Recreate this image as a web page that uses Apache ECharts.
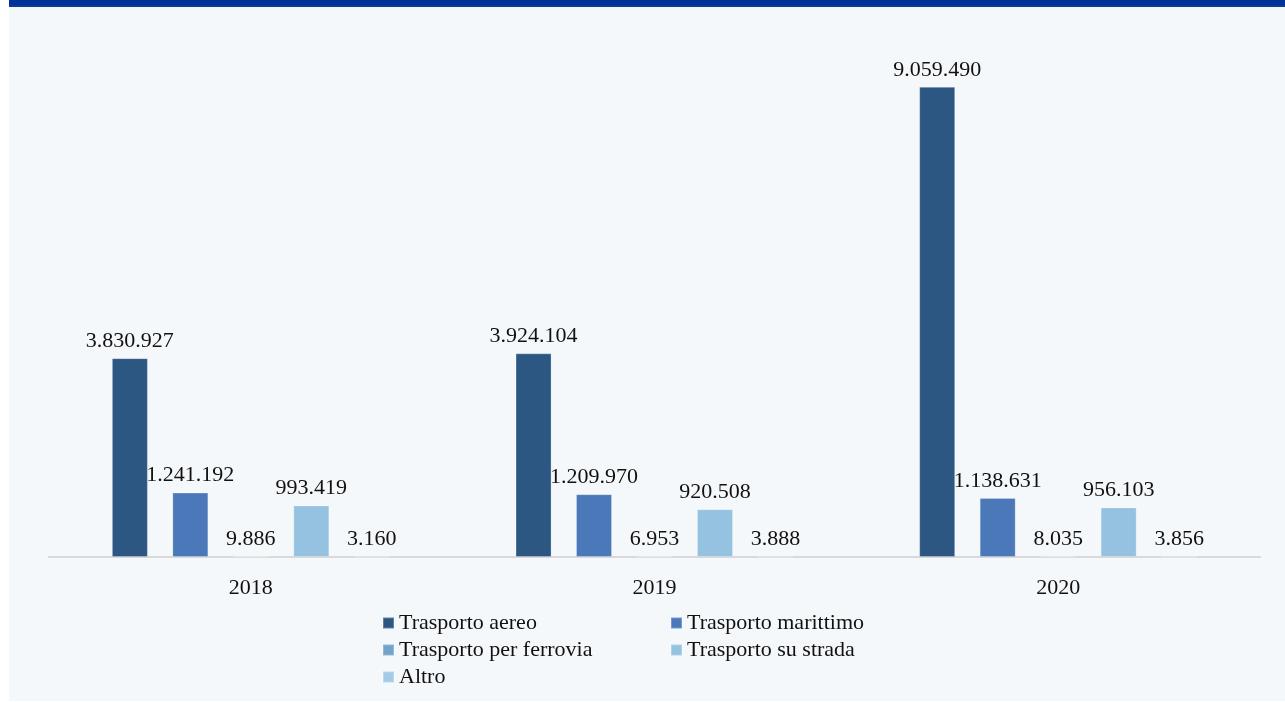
<!DOCTYPE html>
<html>
<head>
<meta charset="utf-8">
<script src="https://cdn.jsdelivr.net/npm/echarts@6/dist/echarts.min.js"></script>
<style>
  html, body { margin: 0; padding: 0; background: #ffffff; }
  #box { width: 1285px; height: 702px; }
</style>
</head>
<body>
<div id="box"></div>
<script>
// categorie (anni)
var years = ['2018', '2019', '2020'];

// serie
var seriesNames = ['Trasporto aereo', 'Trasporto marittimo', 'Trasporto per ferrovia', 'Trasporto su strada', 'Altro'];
var aereo = [3830927, 3924104, 9059490];
var marittimo = [1241192, 1209970, 1138631];
var ferrovia = [9886, 6953, 8035];
var strada = [993419, 920508, 956103];
var altro = [3160, 3888, 3856];

var colors = ['#2c5782', '#4a78b9', '#72a3c9', '#94c2e0', '#a3cbe8'];

var myChart = echarts.init(document.getElementById('box'));

// formato italiano con punto per le migliaia
function fmt(v) {
  return String(v).replace(/\B(?=(\d{3})+(?!\d))/g, '.');
}

var labelOption = {
  show: true,
  position: 'top',
  distance: 6,
  color: '#111',
  fontFamily: 'Liberation Serif',
  fontSize: 22,
  formatter: function (p) { return fmt(p.value); }
};

var allData = [aereo, marittimo, ferrovia, strada, altro];
var series = [];
for (var i = 0; i < seriesNames.length; i++) {
  series.push({
    name: seriesNames[i],
    type: 'bar',
    barWidth: 36,
    barGap: '68%',
    barCategoryGap: '31%',
    itemStyle: { color: colors[i], borderColor: 'rgba(255,255,255,0.25)', borderWidth: 1 },
    label: labelOption,
    data: allData[i]
  });
}

var legendText = { fontFamily: 'Liberation Serif', fontSize: 22, color: '#111' };

var option = {
  backgroundColor: '#ffffff',
  animation: false,
  color: colors,
  graphic: [
    { type: 'rect', z: -10, shape: { x: 9, y: 0, width: 1276, height: 701 }, style: { fill: '#f5f8fb' } },
    { type: 'rect', z: -5, shape: { x: 9, y: 0, width: 1276, height: 5 }, style: { fill: '#003399' } },
    { type: 'rect', z: -5, shape: { x: 9, y: 5, width: 1276, height: 2 }, style: { fill: '#0b3d8f' } }
  ],
  legend: [{
    data: ['Trasporto aereo', 'Trasporto per ferrovia', 'Altro'],
    orient: 'vertical',
    left: 377,
    top: 607,
    itemWidth: 11,
    itemHeight: 11,
    itemGap: 5,
    icon: 'rect',
    textStyle: legendText
  }, {
    data: ['Trasporto marittimo', 'Trasporto su strada'],
    orient: 'vertical',
    left: 665,
    top: 607,
    itemWidth: 11,
    itemHeight: 11,
    itemGap: 5,
    icon: 'rect',
    textStyle: legendText
  }],
  grid: { left: 49, right: 25, top: 38, bottom: 145, containLabel: false },
  xAxis: {
    type: 'category',
    data: years,
    axisTick: { show: false },
    axisLine: { lineStyle: { color: '#d9d9d9', width: 2 } },
    axisLabel: { margin: 20, color: '#111', fontFamily: 'Liberation Serif', fontSize: 22 }
  },
  yAxis: {
    type: 'value',
    min: 0,
    max: 10000000,
    show: false,
    splitLine: { show: false }
  },
  series: series
};

myChart.setOption(option);
</script>
</body>
</html>
